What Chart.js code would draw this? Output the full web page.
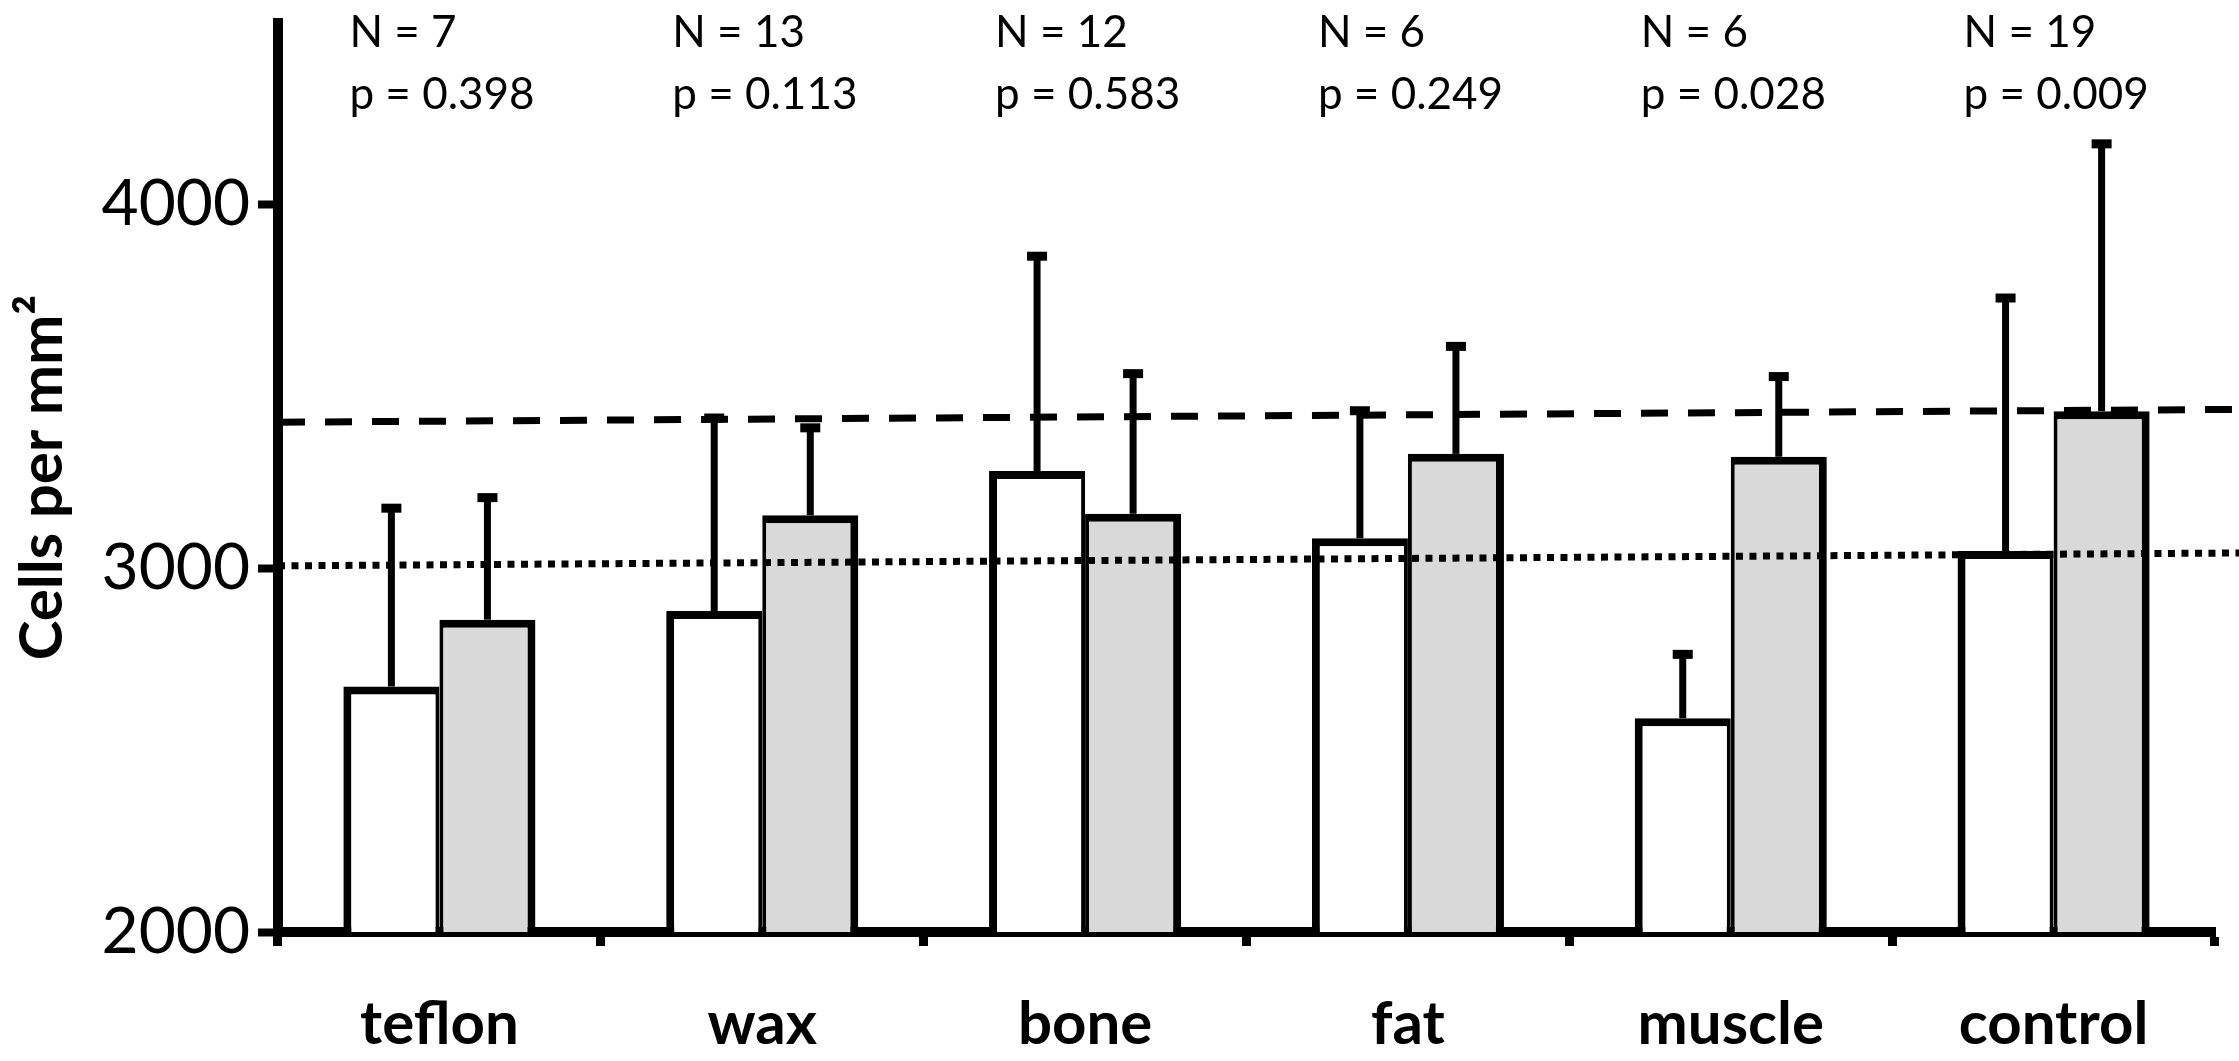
<!DOCTYPE html>
<html>
<head>
<meta charset="utf-8">
<script src="https://cdn.jsdelivr.net/npm/chart.js@4/dist/chart.umd.min.js"></script>
<style>
  html, body { margin: 0; padding: 0; background: #ffffff; }
  #wrap { width: 2239px; height: 1061px; position: relative; }
</style>
</head>
<body>
<div id="wrap"><canvas id="c"></canvas></div>
<script>
// ---- data ----
const categories = ['teflon', 'wax', 'bone', 'fat', 'muscle', 'control'];
const whiteMeans = [2675, 2883, 3268, 3083, 2588, 3048];
const whiteSD    = [492, 532, 592, 352, 177, 697];
const grayMeans  = [2859, 3146, 3150, 3315, 3307, 3432];
const graySD     = [337, 242, 387, 297, 222, 737];
const nValues    = [7, 13, 12, 6, 6, 19];
const pValues    = ['0.398', '0.113', '0.583', '0.249', '0.028', '0.009'];
const yTicks     = [2000, 3000, 4000];
const dashedLine = [3402, 3437];   // value at y axis, value at x-axis end
const dottedLine = [3007, 3042];   // value at y axis, value at x-axis end

// ---- layout / style ----
const AREA_LEFT = 278, AREA_RIGHT_PAD = 24, AREA_TOP = 23, XAXIS_H = 129;
const FONT = 'Lato';

// reference lines (dashed / dotted) placed with the y scale, from the y axis to the page edge
const refLines = {
  id: 'refLines',
  afterDatasetsDraw(chart) {
    const ctx = chart.ctx;
    const y = chart.scales.y;
    const a = chart.chartArea;
    const xEnd = chart.width;
    const frac = (xEnd - a.left) / (a.right - a.left);
    const draw = (vals, dash) => {
      const vEnd = vals[0] + (vals[1] - vals[0]) * frac;
      ctx.save();
      ctx.strokeStyle = '#000';
      ctx.lineWidth = 7;
      ctx.setLineDash(dash);
      ctx.beginPath();
      ctx.moveTo(a.left, y.getPixelForValue(vals[0]));
      ctx.lineTo(xEnd, y.getPixelForValue(vEnd));
      ctx.stroke();
      ctx.restore();
    };
    draw(dashedLine, [27, 20]);
    draw(dottedLine, [7, 6.5]);
  }
};

const errorBars = {
  id: 'errorBars',
  afterDatasetsDraw(chart) {
    const ctx = chart.ctx;
    const y = chart.scales.y;
    const sets = [[0, whiteMeans, whiteSD], [1, grayMeans, graySD]];
    ctx.save();
    ctx.fillStyle = '#000';
    ctx.strokeStyle = '#000';
    sets.forEach(([di, means, sds]) => {
      const meta = chart.getDatasetMeta(di);
      meta.data.forEach((bar, i) => {
        const top = y.getPixelForValue(means[i] + sds[i]);
        const base = y.getPixelForValue(means[i]);
        ctx.lineWidth = 7;
        ctx.beginPath();
        ctx.moveTo(bar.x, base);
        ctx.lineTo(bar.x, top);
        ctx.stroke();
        ctx.fillRect(bar.x - 10, top - 4, 20, 9);
      });
    });
    ctx.restore();
  }
};

const annotations = {
  id: 'annotations',
  afterDraw(chart) {
    const ctx = chart.ctx;
    const x = chart.scales.x;
    ctx.save();
    ctx.fillStyle = '#000';
    ctx.font = '44px ' + FONT;
    ctx.textAlign = 'left';
    ctx.textBaseline = 'middle';
    categories.forEach((c, i) => {
      const cx = x.getPixelForValue(i) - 90;
      ctx.fillText('N = ' + nValues[i], cx, 33);
      ctx.fillText('p = ' + pValues[i], cx, 95);
    });
    ctx.restore();
  }
};

new Chart(document.getElementById('c'), {
  type: 'bar',
  data: {
    labels: categories,
    datasets: [
      {
        data: whiteMeans,
        backgroundColor: '#ffffff',
        borderColor: '#000000',
        borderWidth: { top: 8, left: 8, right: 4, bottom: 0 },
        borderSkipped: 'start'
      },
      {
        data: grayMeans,
        backgroundColor: '#d9d9d9',
        borderColor: '#000000',
        borderWidth: { top: 8, left: 4, right: 8, bottom: 0 },
        borderSkipped: 'start'
      }
    ]
  },
  options: {
    responsive: true,
    maintainAspectRatio: false,
    animation: false,
    devicePixelRatio: 1,
    categoryPercentage: 0.595,
    barPercentage: 1.0,
    layout: { padding: { top: AREA_TOP, right: AREA_RIGHT_PAD, left: 0, bottom: 0 } },
    plugins: { legend: { display: false }, tooltip: { enabled: false } },
    scales: {
      x: {
        type: 'category',
        z: 1,
        grid: { offset: true, drawOnChartArea: false, drawTicks: true, tickLength: 14, tickWidth: 9, tickColor: '#000' },
        border: { display: true, width: 10, color: '#000' },
        ticks: { color: '#000', font: { family: FONT, weight: 'bold', size: 60 }, padding: 43, maxRotation: 0 },
        afterFit(s) { s.height = XAXIS_H; s.paddingLeft = 0; s.paddingRight = 0; }
      },
      y: {
        min: 2000,
        max: 4500,
        afterBuildTicks(s) { s.ticks = yTicks.map(v => ({ value: v })); },
        grid: { drawOnChartArea: false, drawTicks: true, tickLength: 20, tickWidth: 8, tickColor: '#000' },
        border: { display: true, width: 10, color: '#000' },
        ticks: { color: '#000', font: { family: FONT, size: 64 }, padding: 8, callback: (v) => String(v) },
        title: {
          display: true,
          text: 'Cells per mm²',
          color: '#000',
          font: { family: FONT, weight: 'bold', size: 60 },
          padding: { top: 7, bottom: 0 }
        },
        afterFit(s) { s.width = AREA_LEFT; s.paddingTop = 0; s.paddingBottom = 0; }
      }
    }
  },
  plugins: [refLines, errorBars, annotations]
});
</script>
</body>
</html>
